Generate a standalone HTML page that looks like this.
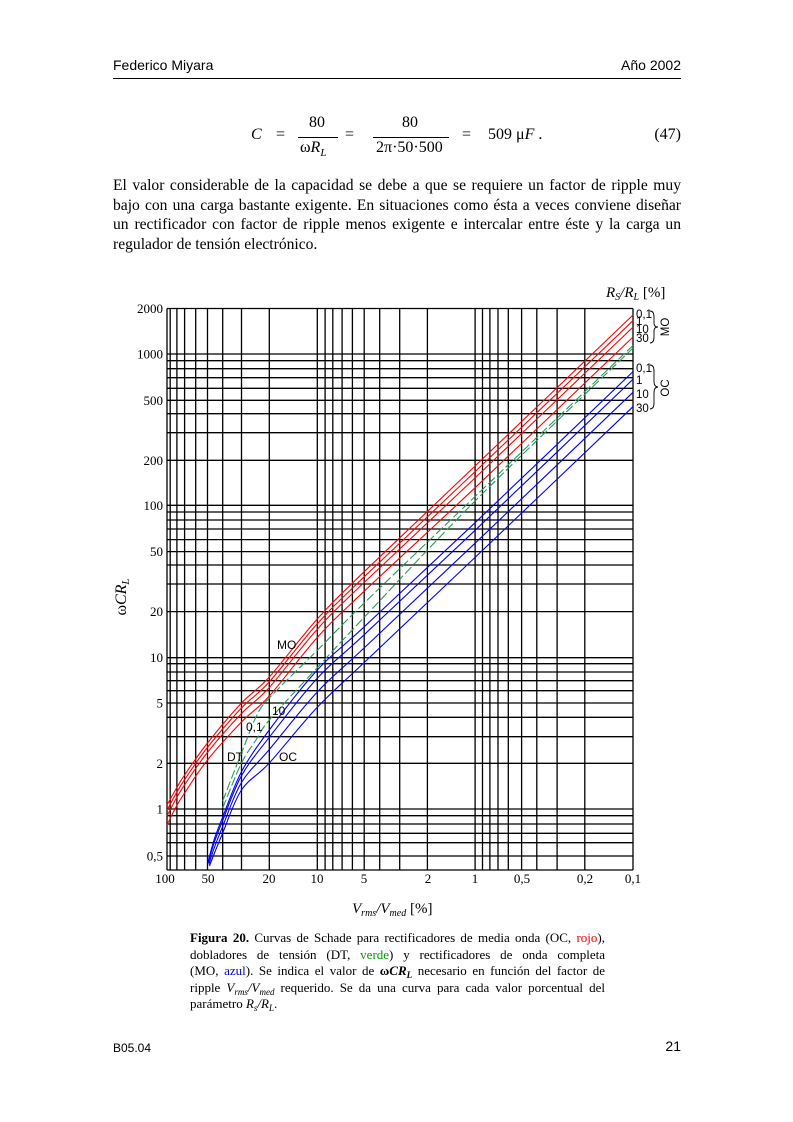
<!DOCTYPE html>
<html><head><meta charset="utf-8">
<style>
html,body{margin:0;padding:0;background:#fff;}
body{width:793px;height:1122px;position:relative;overflow:hidden;font-family:"Liberation Serif",serif;color:#000;}
.abs{position:absolute;}
.hdr{font-family:"Liberation Sans",sans-serif;font-size:14px;}
.par{left:113px;width:568px;font-size:15.6px;line-height:19.5px;top:176px;}
.par span,.cap span{display:block;text-align:justify;text-align-last:justify;}
.par span.last,.cap span.last{text-align-last:left;}
.cap{left:190px;width:415px;font-size:13px;line-height:16.6px;top:930px;}
.cap sub{font-size:9px;line-height:0;vertical-align:-3px;}
.eq{font-size:16px;}
</style></head><body>
<div class="abs hdr" style="left:113px;top:57px;">Federico Miyara</div>
<div class="abs hdr" style="right:112px;top:57px;">Año 2002</div>
<div class="abs" style="left:113px;top:78px;width:568px;height:1px;background:#000;"></div>

<div class="abs eq" style="left:251px;top:126px;"><i>C</i></div>
<div class="abs eq" style="left:276px;top:126px;">=</div>
<div class="abs eq" style="left:309px;top:114px;">80</div>
<div class="abs" style="left:298px;top:137px;width:40px;height:1px;background:#000;"></div>
<div class="abs eq" style="left:300px;top:139px;">ω<i>R<sub style="font-size:11px">L</sub></i></div>
<div class="abs eq" style="left:345px;top:126px;">=</div>
<div class="abs eq" style="left:402px;top:114px;">80</div>
<div class="abs" style="left:373px;top:137px;width:76px;height:1px;background:#000;"></div>
<div class="abs eq" style="left:376px;top:139px;">2π·50·500</div>
<div class="abs eq" style="left:462px;top:126px;">=</div>
<div class="abs eq" style="left:488px;top:126px;">509 μ<i>F</i> .</div>
<div class="abs eq" style="right:112px;top:126px;">(47)</div>

<div class="abs par">
<span>El valor considerable de la capacidad se debe a que se requiere un factor de ripple muy</span>
<span>bajo con una carga bastante exigente. En situaciones como ésta a veces conviene diseñar</span>
<span>un rectificador con factor de ripple menos exigente e intercalar entre éste y la carga un</span>
<span class="last">regulador de tensión electrónico.</span>
</div>

<svg class="abs" style="left:0;top:0" width="793" height="1122" id="ch">
<g id="grid" stroke="#000" stroke-width="1.3" fill="none"></g>
<g id="curves" fill="none" stroke-width="1.1"></g>
<g font-family="Liberation Serif, serif" font-size="13" text-anchor="end" id="ylab"></g>
<g font-family="Liberation Serif, serif" font-size="13" text-anchor="middle" id="xlab"></g>
<g font-family="Liberation Sans, sans-serif" font-size="11.5">
<text x="636" y="318">0,1</text><text x="636" y="325">1</text><text x="636" y="333">10</text><text x="636" y="342">30</text>
<text x="636" y="372">0,1</text><text x="636" y="384">1</text><text x="636" y="398">10</text><text x="636" y="412">30</text>
<text transform="translate(669,327) rotate(-90)" text-anchor="middle">MO</text>
<text transform="translate(669,388) rotate(-90)" text-anchor="middle">OC</text>
<text x="277" y="649" font-size="12">MO</text>
<text x="272" y="715" font-size="12">10</text>
<text x="246" y="731" font-size="12">0,1</text>
<text x="227" y="761" font-size="12">DT</text>
<text x="279" y="761" font-size="12">OC</text>
</g>
<path d="M650 311 q4 0 4 6 v6 q0 4 4 4 q-4 0 -4 4 v6 q0 6 -4 6" stroke="#000" fill="none" stroke-width="0.9"/>
<path d="M650 365 q4 0 4 6 v10 q0 6 4 6 q-4 0 -4 6 v10 q0 6 -4 6" stroke="#000" fill="none" stroke-width="0.9"/>
<text x="606" y="297" font-family="Liberation Serif, serif" font-size="15"><tspan font-style="italic">R<tspan font-size="10" dy="3">S</tspan><tspan dy="-3">/R</tspan><tspan font-size="10" dy="3">L</tspan></tspan><tspan dy="-3">  [%]</tspan></text>
<text x="352" y="913" font-family="Liberation Serif, serif" font-size="15"><tspan font-style="italic">V<tspan font-size="10" dy="3">rms</tspan><tspan dy="-3">/V</tspan><tspan font-size="10" dy="3">med</tspan></tspan><tspan dy="-3">  [%]</tspan></text>
<text transform="translate(126,597) rotate(-90)" text-anchor="middle" font-family="Liberation Serif, serif" font-size="16">ω<tspan font-style="italic">CR<tspan font-size="11" dy="3">L</tspan></tspan></text>
</svg>

<div class="abs cap">
<span><b>Figura 20.</b> Curvas de Schade para rectificadores de media onda (OC, <span style="display:inline;color:#e00">rojo</span>),</span>
<span>dobladores de tensión (DT, <span style="display:inline;color:#090">verde</span>) y rectificadores de onda completa</span>
<span>(MO, <span style="display:inline;color:#00c">azul</span>). Se indica el valor de <b>ω</b><i><b>CR<sub>L</sub></b></i> necesario en función del factor de</span>
<span>ripple <i>V<sub>rms</sub>/V<sub>med</sub></i> requerido. Se da una curva para cada valor porcentual del</span>
<span class="last">parámetro <i>R<sub>s</sub>/R<sub>L</sub></i>.</span>
</div>

<div class="abs" style="left:113px;top:1041px;font-family:'Liberation Sans',sans-serif;font-size:12px;">B05.04</div>
<div class="abs hdr" style="right:112px;top:1038px;">21</div>

<script>
(function(){
var NS="http://www.w3.org/2000/svg";
function el(p,t,a,txt){var e=document.createElementNS(NS,t);for(var k in a)e.setAttribute(k,a[k]);if(txt!=null)e.textContent=txt;p.appendChild(e);return e;}
var g=document.getElementById('grid');
var L=167,R=633,T=308.5,B=870;
var xs=[167,170.2,176.9,184.6,195.7,207.5,222.7,241.5,269.3,317.3,325.1,332.8,342.1,352.4,364.2,379.7,399.7,427.4,475.1,482.5,489.9,498,508.3,521.6,536.8,557.1,584.8,633];
xs.forEach(function(x){el(g,'line',{x1:x,y1:T,x2:x,y2:B});});
var ys=[308.5,354,360.7,368.7,377.7,388.3,400.3,413.7,432.7,460.3,505.3,512,520,529,539.6,551.6,565,584,611.6,657.7,663.7,672,680.7,690.7,703,717.3,736.7,763.3,809,815.7,824,833.3,842.7,856,870];
ys.forEach(function(y){el(g,'line',{x1:L,y1:y,x2:R,y2:y});});
var yl=document.getElementById('ylab');
[["2000",308.5],["1000",354],["500",400.3],["200",460.3],["100",505.3],["50",551.6],["20",611.6],["10",657.7],["5",703],["2",763.3],["1",809],["0,5",856]].forEach(function(a){el(yl,'text',{x:163,y:a[1]+4.5},a[0]);});
var xl=document.getElementById('xlab');
[["100",165],["50",208],["20",269],["10",317],["5",364],["2",428],["1",475],["0,5",522],["0,2",585],["0,1",633]].forEach(function(a){el(xl,'text',{x:a[1],y:883},a[0]);});
function path(P){
var d="M"+P[0][0].toFixed(1)+" "+P[0][1].toFixed(1);
for(var i=0;i<P.length-1;i++){var p0=P[i-1]||P[i],p1=P[i],p2=P[i+1],p3=P[i+2]||P[i+1];
var c1=[p1[0]+(p2[0]-p0[0])/6,p1[1]+(p2[1]-p0[1])/6],c2=[p2[0]-(p3[0]-p1[0])/6,p2[1]-(p3[1]-p1[1])/6];
d+=" C"+c1[0].toFixed(1)+" "+c1[1].toFixed(1)+" "+c2[0].toFixed(1)+" "+c2[1].toFixed(1)+" "+p2[0].toFixed(1)+" "+p2[1].toFixed(1);}
return d;}
function mix(a,b,t){return a.map(function(p,i){return [p[0]*(1-t)+b[i][0]*t,p[1]*(1-t)+b[i][1]*t];});}
var cg=document.getElementById('curves');
var rt=[[167,805],[176,789],[184.6,775],[207.5,743],[241.5,703],[269.3,677],[317.3,619],[364.2,571.7],[475.1,466],[633,315]];
var rb=[[167,825],[176,807],[184.6,793],[207.5,760],[241.5,722],[269.3,696],[317.3,637.5],[364.2,591.2],[475.1,487.7],[633,337]];
[0,0.26,0.55,1].forEach(function(t){el(cg,'path',{d:path(mix(rt,rb,t)),stroke:'#f00'});});
var bt=[[208,862],[214,840],[222.7,817],[241.5,771.7],[269.3,730],[317.3,670],[364.2,626.8],[475.1,522.7],[633,371.6]];
var bb=[[209.5,866],[214.5,853],[222.7,833],[241.5,790],[269.3,763],[317.3,707.3],[364.2,662.5],[475.1,557.4],[633,406.7]];
[0,0.22,0.59,1].forEach(function(t){el(cg,'path',{d:path(mix(bt,bb,t)),stroke:'#00f'});});
var g1=[[222.7,801],[241.5,753],[256,717],[269.3,698],[317.3,650.3],[364.2,603],[475.1,496.5],[633,345.5]];
var g2=[[222.7,808],[241.5,763],[256,740],[269.3,720],[317.3,667.6],[364.2,617.3],[475.1,501],[633,348]];
[g1,g2].forEach(function(c){el(cg,'path',{d:path(c),stroke:'#2a9a5a','stroke-dasharray':'9 3'});});
})();
</script>
</body></html>
